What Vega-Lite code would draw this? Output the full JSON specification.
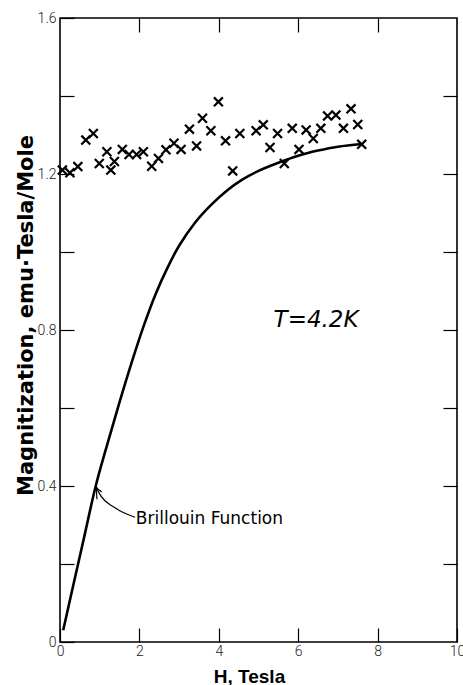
{
  "$schema": "https://vega.github.io/schema/vega-lite/v6.json",
  "width": 397,
  "height": 624,
  "autosize": "none",
  "padding": {"left": 60, "top": 18, "right": 6, "bottom": 43},
  "background": "white",
  "config": {
    "view": {"stroke": "black", "strokeWidth": 1.6},
    "axis": {"domain": false, "grid": false, "tickColor": "black", "tickWidth": 1.2, "tickSize": -14,
             "labelFont": "Roboto", "labelFontWeight": 300, "labelFontSize": 14, "labelColor": "#222",
             "titleFont": "Liberation Sans", "titleFontWeight": "bold", "titleFontSize": 19, "titleColor": "black",
             "labelOverlap": false, "labelFlush": false, "labelBound": false}
  },
  "datasets": {
    "pts": [
      {"H": 0.06, "M": 1.21}, {"H": 0.25, "M": 1.203}, {"H": 0.45, "M": 1.219}, {"H": 0.65, "M": 1.287},
      {"H": 0.84, "M": 1.304}, {"H": 0.99, "M": 1.227}, {"H": 1.18, "M": 1.257}, {"H": 1.28, "M": 1.21},
      {"H": 1.37, "M": 1.232}, {"H": 1.57, "M": 1.263}, {"H": 1.74, "M": 1.25}, {"H": 1.93, "M": 1.25},
      {"H": 2.1, "M": 1.257}, {"H": 2.31, "M": 1.22}, {"H": 2.48, "M": 1.24}, {"H": 2.67, "M": 1.262},
      {"H": 2.87, "M": 1.279}, {"H": 3.05, "M": 1.263}, {"H": 3.26, "M": 1.315}, {"H": 3.44, "M": 1.272},
      {"H": 3.59, "M": 1.343}, {"H": 3.8, "M": 1.311}, {"H": 3.99, "M": 1.385}, {"H": 4.17, "M": 1.285},
      {"H": 4.35, "M": 1.208}, {"H": 4.53, "M": 1.304}, {"H": 4.94, "M": 1.311}, {"H": 5.12, "M": 1.326},
      {"H": 5.29, "M": 1.268}, {"H": 5.48, "M": 1.304}, {"H": 5.65, "M": 1.227}, {"H": 5.85, "M": 1.317},
      {"H": 6.02, "M": 1.263}, {"H": 6.2, "M": 1.313}, {"H": 6.38, "M": 1.291}, {"H": 6.57, "M": 1.317},
      {"H": 6.74, "M": 1.349}, {"H": 6.95, "M": 1.351}, {"H": 7.14, "M": 1.317}, {"H": 7.33, "M": 1.367},
      {"H": 7.5, "M": 1.327}, {"H": 7.6, "M": 1.276}
    ],
    "curve": [
      {"H": 0.08, "M": 0.03}, {"H": 0.3, "M": 0.13}, {"H": 0.6, "M": 0.265}, {"H": 0.9, "M": 0.4},
      {"H": 1.2, "M": 0.51}, {"H": 1.5, "M": 0.615}, {"H": 1.8, "M": 0.715}, {"H": 2.1, "M": 0.808},
      {"H": 2.4, "M": 0.89}, {"H": 2.7, "M": 0.958}, {"H": 3.0, "M": 1.016}, {"H": 3.4, "M": 1.075},
      {"H": 3.8, "M": 1.12}, {"H": 4.2, "M": 1.157}, {"H": 4.6, "M": 1.186}, {"H": 5.0, "M": 1.208},
      {"H": 5.5, "M": 1.229}, {"H": 6.0, "M": 1.247}, {"H": 6.5, "M": 1.26}, {"H": 7.0, "M": 1.27},
      {"H": 7.6, "M": 1.277}
    ],
    "arrow": [
      {"seg": "a", "o": 1, "H": 1.89, "M": 0.32}, {"seg": "a", "o": 2, "H": 1.385, "M": 0.344},
      {"seg": "a", "o": 3, "H": 0.99, "M": 0.381}, {"seg": "a", "o": 4, "H": 0.91, "M": 0.398},
      {"seg": "b", "o": 1, "H": 0.93, "M": 0.366}, {"seg": "b", "o": 2, "H": 0.91, "M": 0.398},
      {"seg": "b", "o": 3, "H": 1.05, "M": 0.385}
    ],
    "labels": [
      {"H": 1.91, "M": 0.316, "text": "Brillouin Function"}
    ],
    "temp": [
      {"H": 6.45, "M": 0.826, "text": "T=4.2K"}
    ]
  },
  "resolve": {"axis": {"x": "independent", "y": "independent"}},
  "layer": [
    {
      "data": {"name": "pts"},
      "mark": {"type": "point", "shape": "M-1,-1L1,1M-1,1L1,-1", "filled": false, "stroke": "black", "strokeWidth": 2.2, "size": 80, "opacity": 1},
      "encoding": {
        "x": {"field": "H", "type": "quantitative", "scale": {"domain": [0, 10], "nice": false, "zero": false},
              "axis": {"orient": "bottom", "title": "H, Tesla", "values": [0, 2, 4, 6, 8, 10], "labelPadding": 16, "titlePadding": 9, "titleX": 189}},
        "y": {"field": "M", "type": "quantitative", "scale": {"domain": [0, 1.6], "nice": false, "zero": false},
              "axis": {"orient": "left", "title": "Magnitization,  emu·Tesla/Mole", "values": [0, 0.2, 0.4, 0.6, 0.8, 1.0, 1.2, 1.4, 1.6],
                       "labelExpr": "round(datum.value*10) % 4 == 0 ? (datum.value == 0 ? '0' : format(datum.value, '.1f')) : ''",
                       "labelPadding": 18, "titlePadding": 1, "titleFont": "DejaVu Sans", "titleFontSize": 21, "titleY": 297}}
      }
    },
    {
      "data": {"name": "curve"},
      "mark": {"type": "line", "stroke": "black", "strokeWidth": 2.6, "interpolate": "catmull-rom"},
      "encoding": {
        "x": {"field": "H", "type": "quantitative", "axis": {"orient": "top", "title": null, "labels": false, "values": [2, 4, 6, 8]}},
        "y": {"field": "M", "type": "quantitative", "axis": {"orient": "right", "title": null, "labels": false, "values": [0.2, 0.4, 0.6, 0.8, 1.0, 1.2, 1.4]}}
      }
    },
    {
      "data": {"name": "arrow"},
      "mark": {"type": "line", "stroke": "black", "strokeWidth": 1.2, "interpolate": "monotone"},
      "encoding": {
        "x": {"field": "H", "type": "quantitative", "axis": null},
        "y": {"field": "M", "type": "quantitative", "axis": null},
        "detail": {"field": "seg"},
        "order": {"field": "o"}
      }
    },
    {
      "data": {"name": "labels"},
      "mark": {"type": "text", "font": "DejaVu Sans", "fontSize": 17, "align": "left", "baseline": "middle", "color": "black"},
      "encoding": {
        "x": {"field": "H", "type": "quantitative", "axis": null},
        "y": {"field": "M", "type": "quantitative", "axis": null},
        "text": {"field": "text"}
      }
    },
    {
      "data": {"name": "temp"},
      "mark": {"type": "text", "font": "DejaVu Sans", "fontStyle": "italic", "fontSize": 23, "align": "center", "baseline": "middle", "color": "black"},
      "encoding": {
        "x": {"field": "H", "type": "quantitative", "axis": null},
        "y": {"field": "M", "type": "quantitative", "axis": null},
        "text": {"field": "text"}
      }
    }
  ]
}
